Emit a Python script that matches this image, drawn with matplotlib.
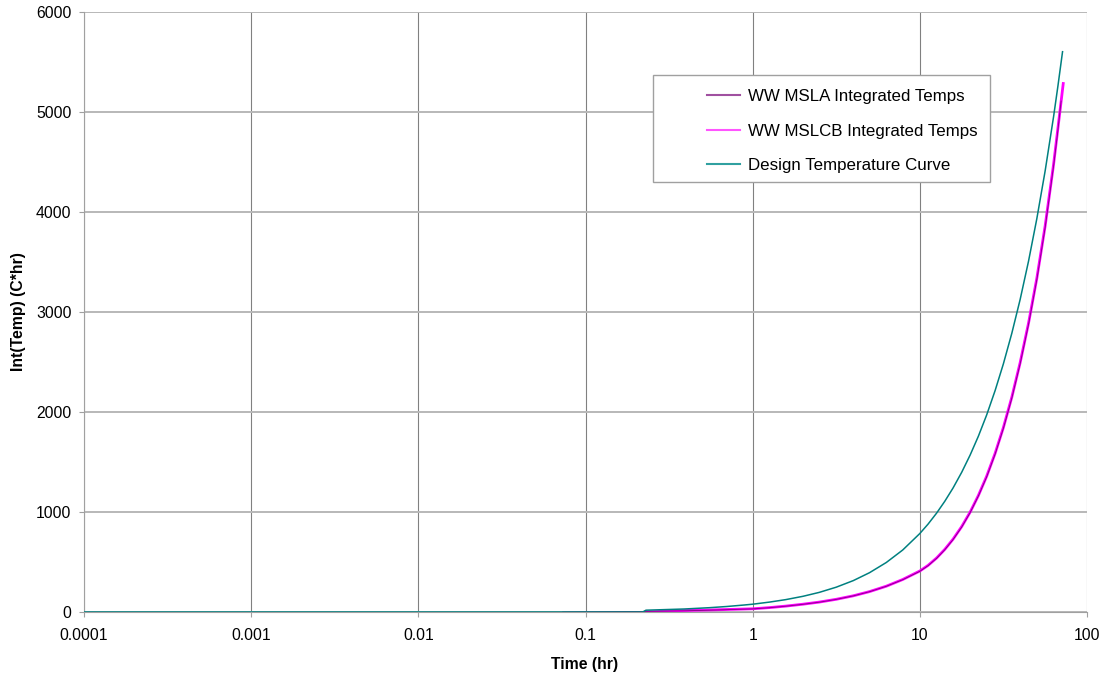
import matplotlib.pyplot as plt
from matplotlib.patches import Rectangle

plt.rcParams['font.family'] = ['Liberation Sans', 'DejaVu Sans']

# Time (hr) and integrated temperature (C*hr)
msla_t = [0.073, 0.2, 0.4, 0.6, 1.0, 1.26, 1.58, 2.0, 2.5, 3.16, 4.0, 5.0,
          6.3, 7.9, 10, 11.2, 12.6, 14.1, 15.8, 17.8, 20, 22.4, 25.1, 28.2,
          31.6, 35.5, 39.8, 44.7, 50.1, 56.2, 63.1, 66.5, 70]
msla_v = [0, 5, 12, 20, 31, 43, 58, 77, 98, 126, 161, 203, 257, 323, 407,
          463, 537, 622, 724, 849, 994, 1160, 1350, 1578, 1835, 2138, 2480,
          2876, 3322, 3845, 4458, 4770, 5110]

mslcb_t = [0.23, 0.39, 0.55, 0.7, 1.0, 1.26, 1.58, 2.0, 2.5, 3.16, 4.0, 5.0,
           6.3, 7.9, 10, 11.2, 12.6, 14.1, 15.8, 17.8, 20, 22.4, 25.1, 28.2,
           31.6, 35.5, 39.8, 44.7, 50.1, 56.2, 63.1, 68.6, 72.1]
mslcb_v = [0, 15, 20, 25, 32, 44, 59, 78, 99, 127, 162, 204, 258, 325, 410,
           466, 540, 626, 728, 854, 999, 1165, 1357, 1586, 1844, 2148, 2492,
           2889, 3337, 3862, 4476, 4982, 5285]

design_t = [0.0001, 0.22, 0.23, 0.39, 0.55, 0.7, 0.89, 1.0, 1.26, 1.58, 2.0,
            2.5, 3.16, 4.0, 5.0, 6.3, 7.9, 10, 11.2, 12.6, 14.1, 15.8, 17.8,
            20, 22.4, 25.1, 28.2, 31.6, 35.5, 39.8, 44.7, 50.1, 56.2, 63.1,
            67, 71.4]
design_v = [0, 0, 18, 30, 43, 55, 70, 78, 99, 124, 157, 196, 248, 314, 393,
            495, 620, 785, 879, 989, 1107, 1240, 1397, 1570, 1758, 1970, 2214,
            2481, 2787, 3124, 3509, 3933, 4412, 4953, 5260, 5603]

labels = ['WW MSLA Integrated Temps', 'WW MSLCB Integrated Temps',
          'Design Temperature Curve']
colors = ['#800080', '#ff00ff', '#008080']

W, H = 1107, 678
fig = plt.figure(figsize=(W / 100, H / 100), dpi=100)
ax = fig.add_axes([84 / W, 1 - 612 / H, 1003 / W, 600 / H])

l_cb, = ax.plot(mslcb_t, mslcb_v, color=colors[1], lw=2.0, label=labels[1], zorder=3)
l_a, = ax.plot(msla_t, msla_v, color=colors[0], lw=0.6, label=labels[0], zorder=4)
l_d, = ax.plot(design_t, design_v, color=colors[2], lw=1.1, label=labels[2], zorder=5)

ax.set_xscale('log')
ax.set_xlim(0.0001, 100)
ax.set_ylim(0, 6000)
ax.set_xticks([0.0001, 0.001, 0.01, 0.1, 1, 10, 100])
ax.set_xticklabels(['0.0001', '0.001', '0.01', '0.1', '1', '10', '100'])
ax.xaxis.set_minor_locator(plt.NullLocator())
ax.set_yticks(range(0, 6001, 1000))

ax.grid(axis='x', color='#808080', lw=0.8)
ax.grid(axis='y', color='#b8b8b8', lw=1.4)
ax.set_axisbelow(True)
for s in ax.spines.values():
    s.set_visible(False)
ax.spines['left'].set_visible(True)
ax.spines['left'].set_color('#a0a0a0')
ax.spines['bottom'].set_visible(True)
ax.spines['bottom'].set_color('#a0a0a0')
ax.tick_params(axis='y', length=3.6, pad=5.5, color='#a0a0a0', labelsize=11.3)
ax.tick_params(axis='x', length=3.6, pad=8, color='#a0a0a0', labelsize=11.3)

fig.text(18 / W, 1 - 312 / H, 'Int(Temp) (C*hr)', rotation=90, ha='center',
         va='center', fontsize=11.3, fontweight='bold')
fig.text(585 / W, 1 - 665 / H, 'Time (hr)', ha='center', va='center',
         fontsize=11.3, fontweight='bold')

# legend box
ax.add_patch(Rectangle((653 / W, 1 - 182 / H), 337 / W, 107 / H,
                       transform=fig.transFigure, facecolor='white',
                       edgecolor='#a0a0a0', lw=1.0, zorder=8, clip_on=False))
leg = ax.legend(handles=[l_a, l_cb, l_d],
                loc='upper left', bbox_to_anchor=(700 / W, 1 - 82 / H),
                bbox_transform=fig.transFigure, frameon=False, fontsize=12.2,
                handlelength=1.95, handletextpad=0.47, labelspacing=1.17,
                borderaxespad=0)
for h in leg.get_lines():
    h.set_linewidth(1.5)
leg.get_lines()[0].set_color('#a050a0')
leg.get_lines()[1].set_color('#ff55ff')
leg.get_lines()[2].set_color('#30a0a0')
leg.set_zorder(9)

fig.savefig('out.png', dpi=100)
